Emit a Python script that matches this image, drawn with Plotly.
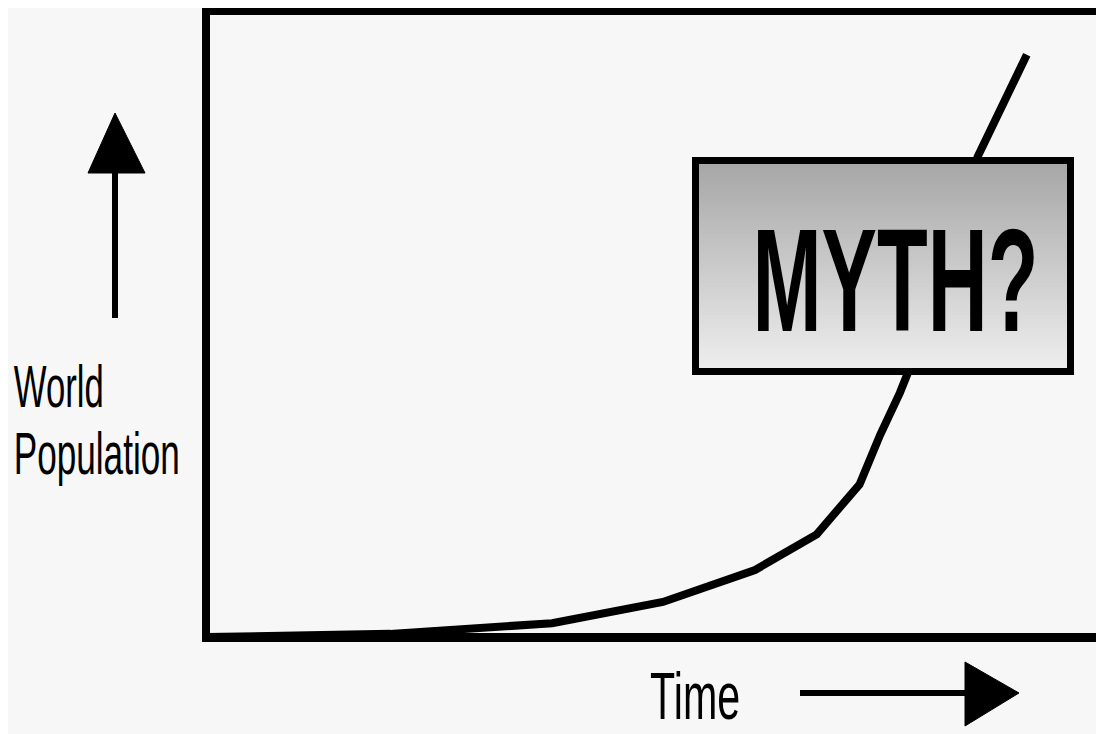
import plotly.graph_objects as go

# ---- data (time vs world population, arbitrary units) ----
time_vals = [0.0, 20.5, 38.6, 51.0, 61.3, 68.2, 73.0, 75.3, 77.5, 78.4, 86.2, 89.0, 91.7]
population_vals = [0.0, 0.5, 2.2, 5.6, 10.7, 16.4, 24.4, 32.3, 39.0, 42.2, 76.7, 85.3, 93.0]

y_label_lines = ["World", "Population"]
x_label = "Time"
box_label = "MYTH?"

# ---- geometry (page pixel coordinates; the page adds an 8px body margin) ----
OFF = 8
W_PAGE, H_PAGE = 1104, 734
L, R, T, B = 207, 1101, 11, 637
PW, PH = R - L, B - T


def px(x):
    return (x - L) / PW


def py(y):
    return (B - y) / PH


BG = "#f7f7f7"
FONT = "Liberation Sans, Arial, Helvetica, sans-serif"

fig = go.Figure()
fig.add_trace(go.Scatter(
    x=time_vals, y=population_vals, mode="lines",
    line=dict(color="black", width=8), hoverinfo="skip", showlegend=False,
))

shapes = []
# frame
shapes.append(dict(type="line", xref="paper", yref="paper", x0=px(206), x1=px(206), y0=py(7), y1=py(642),
                   line=dict(color="black", width=8)))
shapes.append(dict(type="line", xref="paper", yref="paper", x0=px(202), x1=px(1101), y0=py(11), y1=py(11),
                   line=dict(color="black", width=8)))
shapes.append(dict(type="line", xref="paper", yref="paper", x0=px(202), x1=px(1104), y0=py(637.5), y1=py(637.5),
                   line=dict(color="black", width=9)))
shapes.append(dict(type="line", xref="paper", yref="paper", x0=px(1101.5), x1=px(1101.5), y0=py(11), y1=py(637),
                   line=dict(color="#8a8a8a", width=1.5)))

# vertical arrow (population increases)
shapes.append(dict(type="line", xref="paper", yref="paper", x0=px(115), x1=px(115), y0=py(318), y1=py(170),
                   line=dict(color="black", width=6)))
shapes.append(dict(type="path", xref="paper", yref="paper",
                   path=f"M {px(88)} {py(173)} L {px(115)} {py(113)} L {px(145)} {py(173)} Z",
                   fillcolor="black", line=dict(color="black", width=1)))
# horizontal arrow (time increases)
shapes.append(dict(type="line", xref="paper", yref="paper", x0=px(800), x1=px(968), y0=py(693), y1=py(693),
                   line=dict(color="black", width=6)))
shapes.append(dict(type="path", xref="paper", yref="paper",
                   path=f"M {px(965)} {py(662)} L {px(1019)} {py(693)} L {px(965)} {py(726)} Z",
                   fillcolor="black", line=dict(color="black", width=1)))

# MYTH? box with a grey gradient
bx0, bx1, by0, by1 = 695.5, 1070.5, 160.5, 371.5
n_bands = 60
c_top, c_bot = 0xA6, 0xEE
for i in range(n_bands):
    t = i / (n_bands - 1)
    c = round(c_top + (c_bot - c_top) * t)
    col = f"rgb({c},{c},{c})"
    y0 = by0 + (by1 - by0) * i / n_bands
    y1 = by0 + (by1 - by0) * (i + 1) / n_bands
    shapes.append(dict(type="rect", xref="paper", yref="paper", x0=px(bx0), x1=px(bx1),
                       y0=py(y0 - 0.5), y1=py(y1 + 0.5), fillcolor=col, line=dict(width=0)))
shapes.append(dict(type="rect", xref="paper", yref="paper", x0=px(bx0), x1=px(bx1), y0=py(by0), y1=py(by1),
                   fillcolor="rgba(0,0,0,0)", line=dict(color="black", width=7)))

annotations = [
    dict(text=y_label_lines[0], xref="paper", yref="paper", x=px(59), y=py(386.5), xanchor="center", yanchor="middle",
         showarrow=False, font=dict(family=FONT, size=60, color="black")),
    dict(text=y_label_lines[1], xref="paper", yref="paper", x=px(96.5), y=py(453.5), xanchor="center", yanchor="middle",
         showarrow=False, font=dict(family=FONT, size=60, color="black")),
    dict(text=x_label, xref="paper", yref="paper", x=px(695), y=py(696), xanchor="center", yanchor="middle",
         showarrow=False, font=dict(family=FONT, size=66, color="black")),
    dict(text=box_label, xref="paper", yref="paper", x=px(895), y=py(280.5), xanchor="center", yanchor="middle",
         showarrow=False, font=dict(family=FONT, size=146, color="black", weight="bold")),
]

fig.update_layout(
    width=W_PAGE - OFF, height=H_PAGE - OFF,
    margin=dict(l=L - OFF, r=(W_PAGE - OFF) - (R - OFF), t=T - OFF, b=(H_PAGE - OFF) - (B - OFF), pad=0),
    paper_bgcolor=BG, plot_bgcolor=BG,
    xaxis=dict(range=[0, 100], visible=False, showgrid=False, zeroline=False, fixedrange=True),
    yaxis=dict(range=[0, 100], visible=False, showgrid=False, zeroline=False, fixedrange=True),
    shapes=shapes, annotations=annotations, showlegend=False,
)

# The original lettering is a tall condensed face; squeeze the text horizontally to its drawn width.
squeeze_js = """
(function(){
  var gd = document.getElementById('{plot_id}');
  var widths = {"World": 90, "Population": 166, "Time": 90, "MYTH?": 286};
  function squeeze(){
    var nodes = gd.querySelectorAll('text.annotation-text');
    nodes.forEach(function(t){
      var key = t.textContent;
      if(!(key in widths)) return;
      t.removeAttribute('transform');
      var b = t.getBBox();
      if(!b.width) return;
      var sx = widths[key] / b.width;
      var cx = b.x + b.width / 2;
      t.setAttribute('transform', 'translate(' + cx + ',0) scale(' + sx + ',1) translate(' + (-cx) + ',0)');
    });
  }
  squeeze();
  if (gd.on) { gd.on('plotly_afterplot', squeeze); }
})();
"""

fig.write_html("out.html", config=dict(displayModeBar=False, staticPlot=True), post_script=squeeze_js)
